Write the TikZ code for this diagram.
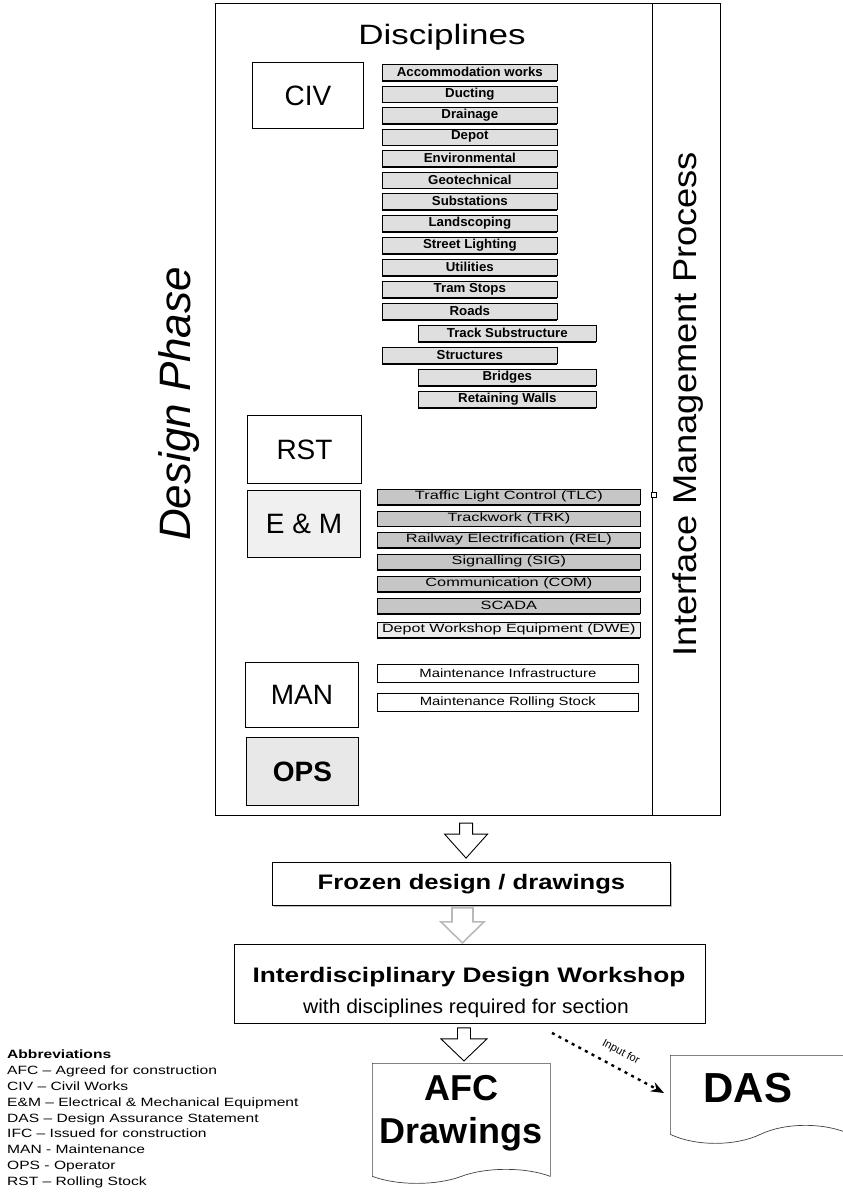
\documentclass[tikz,border=0pt]{standalone}
\usepackage{fontspec}
\setmainfont{Liberation Sans}
\usepackage{graphicx}
\usetikzlibrary{shapes.symbols,shadows,calc,arrows.meta}
\newcommand\hs[2]{\scalebox{#1}[1]{#2}}
\begin{document}
\begin{tikzpicture}[x=1pt,y=-1pt,
  every node/.style={inner sep=0pt},
  frame/.style={draw, line width=1.1pt},
  dbox/.style={draw, line width=1pt, anchor=north west, font=\fontsize{28}{28}\selectfont},
  civbar/.style={draw, line width=0.7pt, fill=gray!25, anchor=north west, minimum height=16pt,
    font=\fontsize{13}{13}\selectfont\bfseries,
    drop shadow={shadow xshift=0pt, shadow yshift=-1.5pt, fill=black, opacity=1}},
  embar/.style={civbar, fill=gray!45, minimum height=15pt, font=\fontsize{12}{12}\selectfont\mdseries},
  manbar/.style={draw, line width=0.7pt, fill=white, anchor=north west, minimum height=18pt,
    font=\fontsize{12}{12}\selectfont},
  stagebox/.style={draw, line width=0.9pt, anchor=north west},
  docshape/.style={draw=black!75, line width=0.7pt, tape, tape bend top=none,
    tape bend bottom=in and out, anchor=north west},
  pics/openarrow/.style n args={4}{code={
    \draw[pic actions] (-#1,0) -- (#1,0) -- (#1,#3) -- (#2,#3) -- (0,#4) -- (-#2,#3) -- (-#1,#3) -- cycle;}}
]
\useasboundingbox (0,0) rectangle (843,1199);

% main frame
\node[frame, anchor=north west, minimum width=505pt, minimum height=812pt] (main) at (215,3) {};
\coordinate (divtop) at (652,3);
\coordinate (divbot) at (652,815);
\draw[line width=1pt] (divtop) -- (divbot);
\node[draw, line width=0.6pt, fill=white, minimum size=5pt] (sq) at (654,495) {};

\node[anchor=base, font=\fontsize{28}{28}\selectfont] (disc) at (442,45) {\hs{1.25}{Disciplines}};
\node[rotate=90, anchor=base, font=\fontsize{44}{44}\selectfont\itshape] (dphase) at (190,404) {Design Phase};
\node[rotate=90, anchor=base, font=\fontsize{33}{33}\selectfont] (imp) at (696,404) {\hs{1.1}{Interface Management Process}};

% discipline boxes
\node[dbox, minimum width=111pt, minimum height=66pt] (civ) at (252,62) {CIV};
\node[dbox, minimum width=114pt, minimum height=68pt] (rst) at (247,415) {RST};
\node[dbox, fill=gray!12, minimum width=113pt, minimum height=67pt] (em) at (247,490) {E \& M};
\node[dbox, minimum width=113pt, minimum height=65pt] (man) at (245,662) {MAN};
\node[dbox, fill=gray!18, minimum width=112pt, minimum height=68pt, font=\fontsize{28}{28}\selectfont\bfseries] (ops) at (246,737) {OPS};

% CIV sub-disciplines
\foreach \txt/\yy/\xx/\ww [count=\i] in {
  Accommodation works/64/382/175, Ducting/85.5/382/175, Drainage/107/382/175,
  Depot/128.5/382/175, Environmental/150/382/175, Geotechnical/171.5/382/175,
  Substations/193/382/175, Landscoping/215/382/175, Street Lighting/237/382/175,
  Utilities/259/382/175, Tram Stops/281/382/175, Roads/303/382/175,
  Track Substructure/325/418/178, Structures/347/382/175, Bridges/369/418/178,
  Retaining Walls/391/418/178}
  \node[civbar, minimum width=\ww pt] (cb\i) at (\xx,\yy) {\hs{1.02}{\txt}};

% E&M sub-disciplines
\foreach \txt/\yy [count=\i] in {
  Traffic Light Control (TLC)/489, Trackwork (TRK)/510.5, Railway Electrification (REL)/532,
  Signalling (SIG)/554, Communication (COM)/576, SCADA/598}
  \node[embar, minimum width=263pt] (eb\i) at (377,\yy) {\hs{1.36}{\txt}};
\node[embar, fill=gray!15, minimum width=263pt] (eb7) at (377,622) {\hs{1.34}{Depot Workshop Equipment (DWE)}};

% MAN sub-disciplines
\node[manbar, minimum width=261pt] (mb1) at (377,664) {\hs{1.24}{Maintenance Infrastructure}};
\node[manbar, minimum width=261pt] (mb2) at (377,693) {\hs{1.24}{Maintenance Rolling Stock}};

% stages
\node[stagebox, minimum width=398pt, minimum height=43pt, font=\fontsize{21}{21}\selectfont\bfseries,
  drop shadow={shadow xshift=2pt, shadow yshift=-2pt, fill=gray!50, opacity=1}, fill=white]
  (frozen) at (272,862) {\hs{1.22}{Frozen design / drawings}};
\node[stagebox, minimum width=471pt, minimum height=79pt] (ws) at (234,944) {};
\node[anchor=base, font=\fontsize{21}{21}\selectfont\bfseries] (wst1) at ($(ws.north)+(-1,38)$) {\hs{1.25}{Interdisciplinary Design Workshop}};
\node[anchor=base, font=\fontsize{20}{20}\selectfont] (wst2) at ($(ws.north)+(-4,69)$) {\hs{1.05}{with disciplines required for section}};

% hollow arrows
\pic[draw=black, line width=0.9pt, fill=white] at ($(main.south)+(-2,7)$) {openarrow={6.5}{21.5}{11}{35}};
\pic[draw=gray!55, line width=1.6pt, fill=white] at ($(frozen.south)+(-9,2)$) {openarrow={10.5}{21.5}{14}{35}};
\pic[draw=black, line width=0.9pt, fill=white] at ($(ws.south)+(-6,4)$) {openarrow={6.5}{23}{11}{33}};

% documents
\node[docshape, tape bend height=14pt, minimum width=178pt, minimum height=120pt] (afc) at (372,1063) {};
\node[anchor=north, align=center, font=\fontsize{36}{43}\selectfont\bfseries] (afctxt) at (461,1075) {AFC\\Drawings};
\node[docshape, tape bend height=18pt, minimum width=180pt, minimum height=88pt] (das) at (670,1055) {};
\node[anchor=base, font=\fontsize{42}{42}\selectfont\bfseries] (dastxt) at (748,1102) {DAS};

% input-for arrow
\coordinate (instart) at ($(ws.south)+(82,9)$);
\coordinate (inend) at ($(das.north west)+(-6,38)$);
\draw[line width=2.4pt, dash pattern=on 3pt off 4.5pt, -{Stealth[length=13pt,width=10pt]}]
  (instart) -- (inend) node[pos=0.55, sloped, above=9pt, font=\fontsize{11}{11}\selectfont] (inlabel) {Input for};

% abbreviations
\node[anchor=north west, align=left, font=\fontsize{12}{15.8}\selectfont] (abbr) at (7,1050) {%
  \hs{1.3}{\bfseries Abbreviations}\\
  \hs{1.3}{AFC – Agreed for construction}\\
  \hs{1.3}{CIV – Civil Works}\\
  \hs{1.3}{E\&M – Electrical \& Mechanical Equipment}\\
  \hs{1.3}{DAS – Design Assurance Statement}\\
  \hs{1.3}{IFC – Issued for construction}\\
  \hs{1.3}{MAN - Maintenance}\\
  \hs{1.3}{OPS - Operator}\\
  \hs{1.3}{RST – Rolling Stock}};
\end{tikzpicture}
\end{document}
